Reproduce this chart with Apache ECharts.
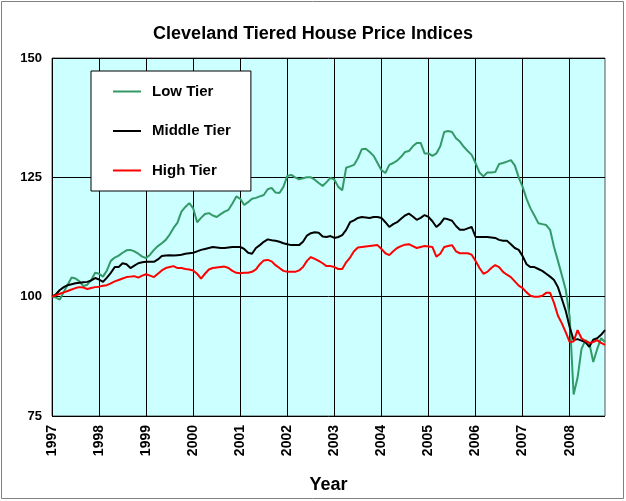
<!DOCTYPE html>
<html>
<head>
<meta charset="utf-8">
<script src="https://cdn.jsdelivr.net/npm/echarts@6/dist/echarts.min.js"></script>
<style>
  html, body { margin: 0; padding: 0; background: #fff; }
  #chart { width: 626px; height: 501px; }
</style>
</head>
<body>
<div id="chart"></div>
<script>
// monthly index, Jan 1997 = 100, through Oct 2008
var startYear = 1997;
var years = ['1997', '1998', '1999', '2000', '2001', '2002', '2003', '2004', '2005', '2006', '2007', '2008'];

var lowTier = [
  100, 99.8, 99.4, 101, 102.5, 104, 103.8, 103.2, 102.2, 102.5, 103.5, 105,
  104.8, 104.2, 105.5, 107.5, 108.2, 108.6, 109.2, 109.7, 109.8, 109.5, 109, 108.4,
  108.1, 108.8, 109.8, 110.6, 111.2, 111.9, 113, 114.4, 115.5, 117.8, 118.8, 119.6,
  118.5, 115.6, 116.5, 117.3, 117.5, 117, 116.7, 117.3, 117.8, 118.2, 119.5, 121,
  120.5, 119.2, 119.8, 120.5, 120.7, 121, 121.3, 122.5, 122.8, 121.8, 121.7, 123,
  125.3, 125.5, 125, 124.6, 124.8, 125, 125, 124.5, 123.8, 123.2, 124, 124.9,
  124.5, 123, 122.3, 127, 127.3, 127.6, 129, 130.9, 131, 130.3, 129.5, 128,
  126.5, 125.9, 127.6, 128, 128.5, 129.3, 130.3, 130.5, 131.5, 132.2, 132.2, 130,
  130, 129.5, 130, 131.5, 134.5, 134.7, 134.5, 133.2, 132.5, 131.4, 130.5, 129.7,
  128, 126, 125.2, 126, 126, 126.1, 127.8, 128, 128.3, 128.6, 127.5, 125,
  123, 120.5, 118.5, 117, 115.4, 115.2, 115, 114, 110.4, 107.5, 104.5, 101.4,
  95.7, 79.5, 83, 89, 90.9, 90.3, 86.3, 89, 91.3, 90.5
];

var middleTier = [
  100, 100.5, 101.4, 102, 102.4, 102.6, 102.8, 102.9, 103, 103.1, 103.4, 103.9,
  103.6, 103.1, 104, 105, 106.2, 106.2, 107, 106.8, 106, 106.5, 107, 107.2,
  107.3, 107.3, 107.3, 107.8, 108.5, 108.6, 108.7, 108.6, 108.7, 108.8, 109, 109.1,
  109.2, 109.5, 109.8, 110, 110.2, 110.4, 110.3, 110.2, 110.2, 110.3, 110.4, 110.4,
  110.4, 110, 109.2, 109, 110.2, 110.8, 111.5, 112, 111.8, 111.7, 111.5, 111.2,
  111, 110.8, 110.8, 110.8, 111.5, 112.8, 113.3, 113.5, 113.4, 112.6, 112.5, 112.7,
  112.3, 112.5, 112.9, 114, 115.6, 116, 116.5, 116.7, 116.6, 116.5, 116.7, 116.7,
  116.5, 115.6, 114.6, 115.2, 115.6, 116.3, 117, 117.4, 116.8, 116.1, 116.5, 117.1,
  116.7, 115.8, 114.6, 115.3, 116.4, 116.2, 115.9, 114.8, 114, 114, 114.3, 114.6,
  112.5, 112.5, 112.5, 112.5, 112.4, 112.3, 111.9, 111.7, 111.7, 111, 110.2, 109.8,
  108.5, 106.8, 106.2, 106.2, 105.8, 105.4, 104.8, 104.2, 103.5, 102, 99.5, 97,
  93.6, 90.9, 91.1, 90.8, 90.5, 89.5, 91, 91.3, 92, 93
];

var highTier = [
  100, 100.3, 100.6, 100.9, 101.2, 101.5, 101.8, 102, 101.9, 101.6, 101.8, 102,
  102.1, 102.3, 102.4, 102.8, 103.2, 103.5, 103.8, 104.1, 104.2, 104.3, 104, 104.4,
  104.7, 104.4, 104.1, 104.8, 105.5, 106, 106.2, 106.4, 106, 106, 105.8, 105.7,
  105.5, 104.8, 103.8, 104.8, 105.7, 106, 106.1, 106.2, 106.3, 106, 105.4, 105,
  104.9, 105, 105, 105.2, 105.7, 106.8, 107.6, 107.7, 107.4, 106.6, 106, 105.4,
  105.2, 105.2, 105.2, 105.5, 106.2, 107.5, 108.3, 107.9, 107.5, 107, 106.4, 106.4,
  106.2, 105.8, 105.8, 107.2, 108.2, 109.5, 110.3, 110.4, 110.5, 110.6, 110.7, 110.8,
  110, 109.1, 108.7, 109.5, 110.2, 110.6, 110.9, 111, 110.6, 110.2, 110.4, 110.6,
  110.5, 110.4, 108.4, 109, 110.4, 110.6, 110.8, 109.5, 109.1, 109.1, 109.1, 108.8,
  107.5, 106, 104.8, 105.2, 106, 106.6, 106.2, 105.2, 104.6, 104.1, 103.2, 102.3,
  101.8, 100.9, 100.2, 100, 100, 100.2, 100.8, 100.8, 98.7, 96, 94.4, 92.5,
  90.5, 90.6, 93, 91.3, 90.7, 90.3, 90.5, 90.9, 90.3, 89.9
];

var months = [];
for (var i = 0; i < lowTier.length; i++) {
  var y = startYear + Math.floor(i / 12);
  var m = (i % 12) + 1;
  months.push(y + '-' + (m < 10 ? '0' + m : m));
}

var font = '"Liberation Sans", Arial, sans-serif';
var chart = echarts.init(document.getElementById('chart'), null, { renderer: 'canvas' });

var option = {
  backgroundColor: '#ffffff',
  animation: false,
  title: {
    text: 'Cleveland Tiered House Price Indices',
    left: 'center',
    top: 20,
    textStyle: { fontFamily: font, fontSize: 18, fontWeight: 'bold', color: '#000' }
  },
  grid: {
    left: 52, right: 21, top: 58, bottom: 85,
    show: true,
    backgroundColor: '#ccffff',
    borderColor: '#555',
    borderWidth: 1
  },
  legend: {
    orient: 'vertical',
    left: 91,
    top: 71,
    backgroundColor: '#fff',
    borderColor: '#000',
    borderWidth: 1,
    padding: [13, 20, 13, 21],
    itemWidth: 28,
    itemHeight: 14,
    itemGap: 24.5,
    itemStyle: { opacity: 0 },
    lineStyle: { width: 2 },
    textStyle: { fontFamily: font, fontSize: 15, fontWeight: 'bold', color: '#000', padding: [0, 0, 0, 6] },
    data: ['Low Tier', 'Middle Tier', 'High Tier']
  },
  xAxis: {
    type: 'category',
    data: months,
    boundaryGap: false,
    name: 'Year',
    nameLocation: 'middle',
    nameGap: 60,
    nameTextStyle: { fontFamily: font, fontSize: 18, fontWeight: 'bold', color: '#000' },
    axisLine: { show: false },
    axisTick: { show: false },
    axisLabel: {
      interval: function (idx) { return idx % 12 === 0; },
      formatter: function (v) { return v.slice(0, 4); },
      rotate: 90,
      margin: 9,
      fontFamily: font, fontSize: 14, fontWeight: 'bold', color: '#000'
    },
    splitLine: {
      show: true,
      interval: function (idx) { return idx % 12 === 0; },
      lineStyle: { color: '#000', width: 1 }
    }
  },
  yAxis: {
    type: 'value',
    min: 75,
    max: 150,
    interval: 25,
    axisLine: { show: false },
    axisTick: { show: false },
    axisLabel: { margin: 10, fontFamily: font, fontSize: 13, fontWeight: 'bold', color: '#000' },
    splitLine: { show: true, lineStyle: { color: '#000', width: 1 } }
  },
  series: [
    { name: 'Low Tier', type: 'line', data: lowTier, symbol: 'none', lineStyle: { color: '#339966', width: 2 }, itemStyle: { color: '#339966' } },
    { name: 'Middle Tier', type: 'line', data: middleTier, symbol: 'none', lineStyle: { color: '#000000', width: 2 }, itemStyle: { color: '#000000' } },
    { name: 'High Tier', type: 'line', data: highTier, symbol: 'none', lineStyle: { color: '#ff0000', width: 2 }, itemStyle: { color: '#ff0000' } }
  ],
  graphic: [{
    type: 'rect',
    shape: { x: 1.5, y: 1.5, width: 622, height: 497 },
    style: { fill: 'none', stroke: '#808080', lineWidth: 1 },
    silent: true
  }]
};

chart.setOption(option);
</script>
</body>
</html>
